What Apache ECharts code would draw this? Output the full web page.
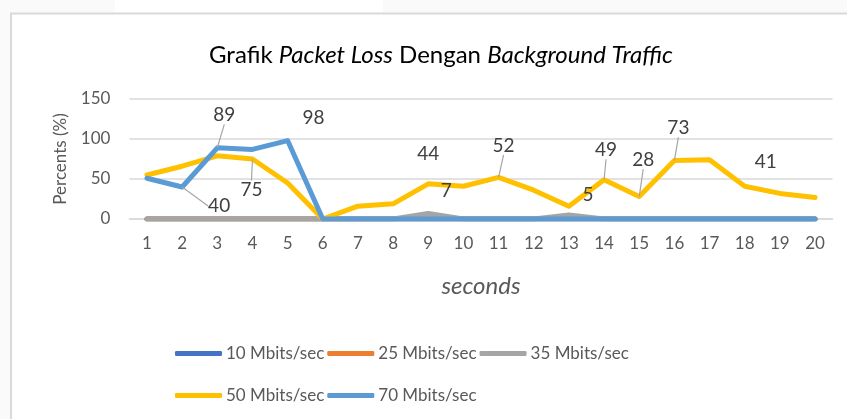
<!DOCTYPE html>
<html>
<head>
<meta charset="utf-8">
<script src="https://cdn.jsdelivr.net/npm/echarts@6/dist/echarts.min.js"></script>
<style>
  html, body { margin: 0; padding: 0; background: #fafafa; }
  #chart { width: 847px; height: 419px; }
</style>
</head>
<body>
<div id="chart"></div>
<script>
// data
var seconds = ['1','2','3','4','5','6','7','8','9','10','11','12','13','14','15','16','17','18','19','20'];
var names = ['10 Mbits/sec', '25 Mbits/sec', '35 Mbits/sec', '50 Mbits/sec', '70 Mbits/sec'];
var mb10 = [0,0,0,0,0,0,0,0,0,0,0,0,0,0,0,0,0,0,0,0];
var mb25 = [0,0,0,0,0,0,0,0,0,0,0,0,0,0,0,0,0,0,0,0];
var mb35 = [0,0,0,0,0,0,0,0,7,0,0,0,5,0,0,0,0,0,0,0];
var mb50 = [55,66,79,75,45,0,16,19,44,41,52,36,16,49,28,73,74,41,32,27];
var mb70 = [51,40,89,87,98,0,0,0,0,0,0,0,0,0,0,0,0,0,0,0];
var yTicks = [0, 50, 100, 150];

// which points get a data label (series index -> point index -> [dx, dy, leader])
var labelPos = {
    2: { 8: [18, -23, false], 12: [19, -20, false] },
    3: { 3: [-1, 31, true], 8: [0, -30, false], 10: [5, -32, true], 13: [2, -30, true],
         14: [4, -37, true], 15: [4, -33, true], 17: [21, -24, false] },
    4: { 1: [37, 19, true], 2: [7, -33, true], 4: [26, -23, false] }
};

var colors = ['#4472C4', '#ED7D31', '#A5A5A5', '#FFC000', '#5B9BD5'];
var font = 'Lato, "Open Sans", sans-serif';

var chart = echarts.init(document.getElementById('chart'));

function makeSeries(idx, values) {
    var marks = labelPos[idx] || {};
    return {
        name: names[idx],
        type: 'line',
        data: values.map(function (v, i) {
            var m = marks[i];
            if (!m) return v;
            return {
                value: v,
                label: { show: true },
                labelLine: { show: m[2] }
            };
        }),
        symbol: 'circle',
        symbolSize: 0.01,
        showSymbol: true,
        lineStyle: { color: colors[idx], width: 5, cap: 'round', join: 'round' },
        itemStyle: { color: colors[idx] },
        label: {
            show: false,
            position: 'inside',
            color: '#404040',
            fontSize: 19,
            fontFamily: font
        },
        labelLine: {
            show: false,
            lineStyle: { color: '#a6a6a6', width: 1.2 }
        },
        labelLayout: function (p) {
            var m = marks[p.dataIndex];
            if (!m) return {};
            return { dx: m[0], dy: m[1] };
        },
        emphasis: { disabled: true },
        animation: false
    };
}

var legendBase = {
    icon: 'roundRect', itemWidth: 47, itemHeight: 5, itemGap: 3, padding: 0,
    textStyle: { color: '#595959', fontSize: 17, fontFamily: font, padding: [0, 0, 0, -1] }
};

var option = {
    backgroundColor: '#fafafa',
    animation: false,
    graphic: [
        { type: 'rect', shape: { x: 115, y: 0, width: 268, height: 13 }, style: { fill: '#ffffff' }, z: -10 },
        { type: 'rect', shape: { x: 11, y: 13.5, width: 900, height: 500 },
          style: { fill: '#ffffff', stroke: '#d9d9d9', lineWidth: 2 }, z: -10 }
    ],
    title: {
        text: '{n|Grafik }{i|Packet Loss}{n| Dengan }{i|Background Traffic}',
        left: 436,
        textAlign: 'center',
        top: 38,
        textStyle: {
            rich: {
                n: { fontSize: 24, color: '#000', fontFamily: font, fontWeight: 'normal' },
                i: { fontSize: 24, color: '#000', fontFamily: font, fontStyle: 'italic', fontWeight: 'normal' }
            }
        }
    },
    legend: [
        Object.assign({ data: names.slice(0, 3), left: 175, top: 345 }, legendBase),
        Object.assign({ data: names.slice(3), left: 175, top: 387 }, legendBase)
    ],
    grid: { left: 129.4, right: 14.4, top: 99, bottom: 200 },
    xAxis: {
        type: 'category',
        data: seconds,
        boundaryGap: true,
        name: 'seconds',
        nameLocation: 'middle',
        nameGap: 55,
        nameTextStyle: { color: '#595959', fontSize: 24, fontStyle: 'italic', fontFamily: font },
        axisLine: { lineStyle: { color: '#d9d9d9', width: 1.5 } },
        axisTick: { show: false },
        axisLabel: { color: '#595959', fontSize: 17, fontFamily: font, margin: 16 }
    },
    yAxis: {
        type: 'value',
        min: yTicks[0],
        max: yTicks[yTicks.length - 1],
        interval: yTicks[1] - yTicks[0],
        name: 'Percents (%)',
        nameLocation: 'middle',
        nameGap: 60,
        nameTextStyle: { color: '#595959', fontSize: 17, fontFamily: font },
        axisLine: { show: false },
        axisTick: { show: false },
        splitLine: { lineStyle: { color: '#d9d9d9', width: 1.5 } },
        axisLabel: { color: '#595959', fontSize: 17, fontFamily: font, margin: 19 }
    },
    series: [
        makeSeries(0, mb10),
        makeSeries(1, mb25),
        makeSeries(2, mb35),
        makeSeries(3, mb50),
        makeSeries(4, mb70)
    ]
};

chart.setOption(option);
</script>
</body>
</html>
